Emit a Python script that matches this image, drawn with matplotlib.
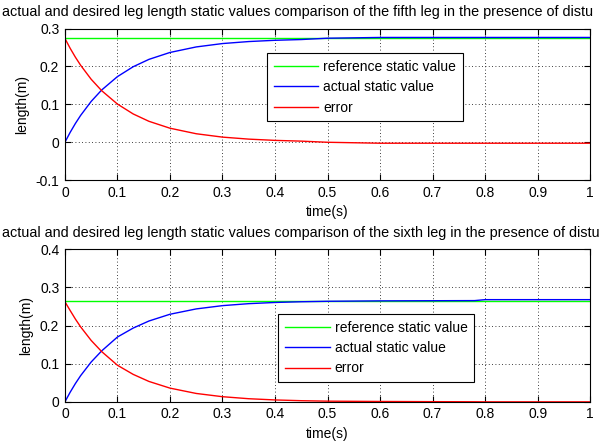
import matplotlib
matplotlib.use('Agg')
import matplotlib.pyplot as plt

# --- data ---
t_top = [0, 0.01, 0.02, 0.03, 0.05, 0.07, 0.10, 0.13, 0.16, 0.20, 0.25,
         0.30, 0.35, 0.40, 0.45, 0.50, 0.60, 0.70, 0.80, 0.90, 1.00]
ref_top = [0.274] * len(t_top)
act_top = [0.0, 0.0261, 0.0497, 0.0710, 0.1078, 0.1379, 0.1732, 0.1993, 0.2187,
           0.2369, 0.2515, 0.2604, 0.2657, 0.2690, 0.2710, 0.2745, 0.2765,
           0.2765, 0.2765, 0.2765, 0.2765]
err_top = [0.274, 0.2479, 0.2243, 0.2030, 0.1662, 0.1361, 0.1008, 0.0747, 0.0553,
           0.0371, 0.0225, 0.0136, 0.0083, 0.0050, 0.0030, 0.0000, -0.0025,
           -0.0025, -0.0025, -0.0025, -0.0025]

t_bot = [0, 0.01, 0.02, 0.03, 0.05, 0.07, 0.10, 0.13, 0.16, 0.20, 0.25,
         0.30, 0.35, 0.40, 0.45, 0.50, 0.60, 0.70, 0.78, 0.80, 0.90, 1.00]
ref_bot = [0.2655] * len(t_bot)
act_bot = [0.0, 0.0252, 0.0481, 0.0688, 0.1045, 0.1336, 0.1700, 0.1935, 0.2120,
           0.2297, 0.2437, 0.2523, 0.2575, 0.2606, 0.2625, 0.2637, 0.2648,
           0.2652, 0.2655, 0.2680, 0.2680, 0.2680]
err_bot = [0.2625, 0.2395, 0.2170, 0.1965, 0.1610, 0.1318, 0.0960, 0.0720, 0.0535,
           0.0360, 0.0220, 0.0135, 0.0082, 0.0050, 0.0030, 0.0018, 0.0010,
           0.0005, 0.0002, 0.0, 0.0, 0.0]

labels = ['reference static value', 'actual static value', 'error']
x_ticks = [0, 0.1, 0.2, 0.3, 0.4, 0.5, 0.6, 0.7, 0.8, 0.9, 1]
# titles as far as they are visible in the reference (cut at the right edge there)
titles = ['actual and desired leg length static values comparison of the fifth leg in the presence of distu',
          'actual and desired leg length static values comparison of the sixth leg in the presence of distu']

plt.rcParams['font.family'] = ['Liberation Sans', 'DejaVu Sans']
plt.rcParams['font.size'] = 10

fig = plt.figure(figsize=(6.01, 4.46), dpi=100)
ax1 = fig.add_axes([0.108, 0.596, 0.874, 0.340])
ax2 = fig.add_axes([0.108, 0.099, 0.874, 0.342])


def draw(ax, t, ref, act, err, ylim, yticks, title, title_y, leg_anchor):
    ax.plot(t, ref, color='#00ff00', lw=1, label=labels[0])
    ax.plot(t, act, color='#0000ff', lw=1, label=labels[1])
    ax.plot(t, err, color='#ff0000', lw=1, label=labels[2])
    ax.set_xlim(0, 1)
    ax.set_ylim(*ylim)
    ax.set_xticks(x_ticks)
    ax.set_xticklabels(['0', '0.1', '0.2', '0.3', '0.4', '0.5', '0.6', '0.7', '0.8', '0.9', '1'])
    ax.set_yticks(yticks)
    ax.set_yticklabels([('%g' % v) for v in yticks])
    ax.tick_params(direction='in', top=True, right=True, length=4, width=0.8,
                   labelsize=10, pad=4)
    ax.grid(True, color='black', linestyle=(0, (1, 3)), lw=0.6)
    for s in ax.spines.values():
        s.set_linewidth(0.8)
    ax.set_xlabel('time(s)', fontsize=10, labelpad=4)
    ax.set_ylabel('length(m)', fontsize=10, labelpad=5)
    fig.text(0.004, title_y, title, fontsize=10.4, ha='left', va='center')
    leg = ax.legend(loc='upper left', bbox_to_anchor=leg_anchor, bbox_transform=fig.transFigure,
                    borderaxespad=0, fancybox=False, framealpha=1, edgecolor='black',
                    handlelength=3.2, handletextpad=0.35, labelspacing=0.45,
                    borderpad=0.5, fontsize=10)
    leg.get_frame().set_linewidth(0.8)


draw(ax1, t_top, ref_top, act_top, err_top, (-0.1, 0.3), [-0.1, 0, 0.1, 0.2, 0.3],
     titles[0], 1 - 12 / 446, (0.444, 0.881))
draw(ax2, t_bot, ref_bot, act_bot, err_bot, (0, 0.4), [0, 0.1, 0.2, 0.3, 0.4],
     titles[1], 1 - 233 / 446, (0.463, 0.296))

fig.savefig('out.png', dpi=100)
